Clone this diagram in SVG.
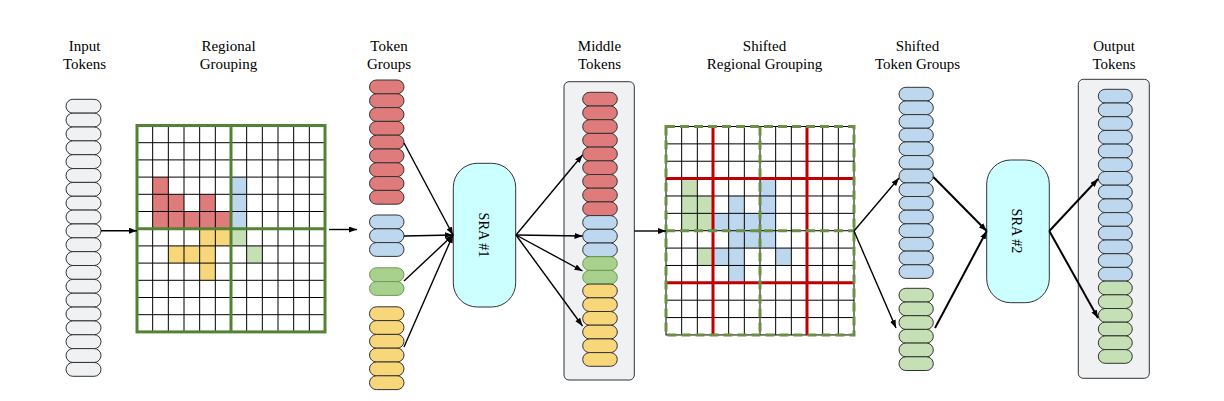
<svg xmlns="http://www.w3.org/2000/svg" width="1224" height="401" viewBox="0 0 1224 401">
<defs>
<marker id="ah" markerUnits="userSpaceOnUse" markerWidth="8" markerHeight="6" refX="8" refY="3" orient="auto"><path d="M0,0 L8,3 L0,6 z" fill="#000"/></marker>
<style>
.t{font-family:"Liberation Serif","Times New Roman",serif;font-size:15px;fill:#000;text-anchor:middle}
.s{font-family:"Liberation Serif","Times New Roman",serif;font-size:14.3px;fill:#000;text-anchor:middle}
.tk{stroke:#333;stroke-width:1}
.g{fill:#f0f1f3}.r{fill:#e07b7b}.b{fill:#bdd7ee}.gd{fill:#a9d18e;stroke:#6f9a55}.gl{fill:#c5e0b4}.y{fill:#f8d77b}
.cont{fill:#f0f1f3;stroke:#333;stroke-width:1}
.sra{fill:#ccffff;stroke:#333;stroke-width:1}
.gl1{stroke:#000;stroke-width:1;fill:none}
.gb{stroke:#548235;stroke-width:3;fill:none}
.gd2{stroke:#6a8f45;stroke-width:3;fill:none;stroke-dasharray:9 5}
.rl{stroke:#c00000;stroke-width:3;fill:none}
.c{stroke:#000;stroke-width:1.4;fill:none;marker-end:url(#ah)}
.c2{stroke:#000;stroke-width:2;fill:none;marker-end:url(#ah)}
</style>
</defs>
<rect width="1224" height="401" fill="#fff"/>

<g id="titles">
<text class="t" x="84.5" y="51">Input</text><text class="t" x="84.5" y="69">Tokens</text>
<text class="t" x="228.5" y="51">Regional</text><text class="t" x="228.5" y="69">Grouping</text>
<text class="t" x="389" y="51">Token</text><text class="t" x="389" y="69">Groups</text>
<text class="t" x="599.5" y="51">Middle</text><text class="t" x="599.5" y="69">Tokens</text>
<text class="t" x="764.5" y="51">Shifted</text><text class="t" x="764.5" y="69">Regional Grouping</text>
<text class="t" x="917.5" y="51">Shifted</text><text class="t" x="917.5" y="69">Token Groups</text>
<text class="t" x="1114" y="51">Output</text><text class="t" x="1114" y="69">Tokens</text>
</g>

<g id="input-tokens" class="tk">
<rect class="g" x="66" y="99.3" width="35" height="13.85" rx="6.9"/>
<rect class="g" x="66" y="113.15" width="35" height="13.85" rx="6.9"/>
<rect class="g" x="66" y="127" width="35" height="13.85" rx="6.9"/>
<rect class="g" x="66" y="140.85" width="35" height="13.85" rx="6.9"/>
<rect class="g" x="66" y="154.7" width="35" height="13.85" rx="6.9"/>
<rect class="g" x="66" y="168.55" width="35" height="13.85" rx="6.9"/>
<rect class="g" x="66" y="182.4" width="35" height="13.85" rx="6.9"/>
<rect class="g" x="66" y="196.25" width="35" height="13.85" rx="6.9"/>
<rect class="g" x="66" y="210.1" width="35" height="13.85" rx="6.9"/>
<rect class="g" x="66" y="223.95" width="35" height="13.85" rx="6.9"/>
<rect class="g" x="66" y="237.8" width="35" height="13.85" rx="6.9"/>
<rect class="g" x="66" y="251.65" width="35" height="13.85" rx="6.9"/>
<rect class="g" x="66" y="265.5" width="35" height="13.85" rx="6.9"/>
<rect class="g" x="66" y="279.35" width="35" height="13.85" rx="6.9"/>
<rect class="g" x="66" y="293.2" width="35" height="13.85" rx="6.9"/>
<rect class="g" x="66" y="307.05" width="35" height="13.85" rx="6.9"/>
<rect class="g" x="66" y="320.9" width="35" height="13.85" rx="6.9"/>
<rect class="g" x="66" y="334.75" width="35" height="13.85" rx="6.9"/>
<rect class="g" x="66" y="348.6" width="35" height="13.85" rx="6.9"/>
<rect class="g" x="66" y="362.45" width="35" height="13.85" rx="6.9"/>
</g>

<g id="regional-grouping">
<rect x="137" y="125.5" width="188" height="206.4" fill="#fff"/>
<g>
<rect class="r" x="152.67" y="177.1" width="15.67" height="17.2"/>
<rect class="r" x="152.67" y="194.3" width="15.67" height="17.2"/>
<rect class="r" x="168.33" y="194.3" width="15.67" height="17.2"/>
<rect class="r" x="199.67" y="194.3" width="15.67" height="17.2"/>
<rect class="r" x="152.67" y="211.5" width="15.67" height="17.2"/>
<rect class="r" x="168.33" y="211.5" width="15.67" height="17.2"/>
<rect class="r" x="184" y="211.5" width="15.67" height="17.2"/>
<rect class="r" x="199.67" y="211.5" width="15.67" height="17.2"/>
<rect class="r" x="215.33" y="211.5" width="15.67" height="17.2"/>
<rect class="b" x="231" y="177.1" width="15.67" height="17.2"/>
<rect class="b" x="231" y="194.3" width="15.67" height="17.2"/>
<rect class="b" x="231" y="211.5" width="15.67" height="17.2"/>
<rect class="y" x="199.67" y="228.7" width="15.67" height="17.2"/>
<rect class="y" x="215.33" y="228.7" width="15.67" height="17.2"/>
<rect class="y" x="168.33" y="245.9" width="15.67" height="17.2"/>
<rect class="y" x="184" y="245.9" width="15.67" height="17.2"/>
<rect class="y" x="199.67" y="245.9" width="15.67" height="17.2"/>
<rect class="y" x="199.67" y="263.1" width="15.67" height="17.2"/>
<rect class="gl" x="231" y="228.7" width="15.67" height="17.2"/>
<rect class="gl" x="246.67" y="245.9" width="15.67" height="17.2"/>
</g>
<path class="gl1" d="M152.67,125.5V331.9M168.33,125.5V331.9M184,125.5V331.9M199.67,125.5V331.9M215.33,125.5V331.9M231,125.5V331.9M246.67,125.5V331.9M262.33,125.5V331.9M278,125.5V331.9M293.67,125.5V331.9M309.33,125.5V331.9M137,142.7H325M137,159.9H325M137,177.1H325M137,194.3H325M137,211.5H325M137,228.7H325M137,245.9H325M137,263.1H325M137,280.3H325M137,297.5H325M137,314.7H325"/>
<rect class="gb" x="137" y="125.5" width="188" height="206.4"/>
<path class="gb" d="M231,125.5V331.9M137,228.7H325"/>
</g>

<g id="token-groups" class="tk">
<rect class="r" x="369.5" y="80" width="34.5" height="13.8" rx="6.9"/>
<rect class="r" x="369.5" y="93.8" width="34.5" height="13.8" rx="6.9"/>
<rect class="r" x="369.5" y="107.6" width="34.5" height="13.8" rx="6.9"/>
<rect class="r" x="369.5" y="121.4" width="34.5" height="13.8" rx="6.9"/>
<rect class="r" x="369.5" y="135.2" width="34.5" height="13.8" rx="6.9"/>
<rect class="r" x="369.5" y="149" width="34.5" height="13.8" rx="6.9"/>
<rect class="r" x="369.5" y="162.8" width="34.5" height="13.8" rx="6.9"/>
<rect class="r" x="369.5" y="176.6" width="34.5" height="13.8" rx="6.9"/>
<rect class="r" x="369.5" y="190.4" width="34.5" height="13.8" rx="6.9"/>
<rect class="b" x="369.5" y="215" width="34.5" height="13.8" rx="6.9"/>
<rect class="b" x="369.5" y="228.8" width="34.5" height="13.8" rx="6.9"/>
<rect class="b" x="369.5" y="242.6" width="34.5" height="13.8" rx="6.9"/>
<rect class="gd" x="369.5" y="267.8" width="34.5" height="13.8" rx="6.9"/>
<rect class="gd" x="369.5" y="281.6" width="34.5" height="13.8" rx="6.9"/>
<rect class="y" x="369.5" y="306.8" width="34.5" height="13.8" rx="6.9"/>
<rect class="y" x="369.5" y="320.6" width="34.5" height="13.8" rx="6.9"/>
<rect class="y" x="369.5" y="334.4" width="34.5" height="13.8" rx="6.9"/>
<rect class="y" x="369.5" y="348.2" width="34.5" height="13.8" rx="6.9"/>
<rect class="y" x="369.5" y="362" width="34.5" height="13.8" rx="6.9"/>
<rect class="y" x="369.5" y="375.8" width="34.5" height="13.8" rx="6.9"/>
</g>

<g id="sra1">
<rect class="sra" x="453.3" y="163.3" width="62.4" height="143.7" rx="24"/>
<text class="s" transform="translate(478.5,235) rotate(90)">SRA #1</text>
</g>

<g id="middle-tokens">
<rect class="cont" x="564" y="81.7" width="70.3" height="298.3" rx="5"/>
<g class="tk">
<rect class="r" x="582.7" y="92.3" width="34.6" height="13.7" rx="6.85"/>
<rect class="r" x="582.7" y="106" width="34.6" height="13.7" rx="6.85"/>
<rect class="r" x="582.7" y="119.7" width="34.6" height="13.7" rx="6.85"/>
<rect class="r" x="582.7" y="133.4" width="34.6" height="13.7" rx="6.85"/>
<rect class="r" x="582.7" y="147.1" width="34.6" height="13.7" rx="6.85"/>
<rect class="r" x="582.7" y="160.8" width="34.6" height="13.7" rx="6.85"/>
<rect class="r" x="582.7" y="174.5" width="34.6" height="13.7" rx="6.85"/>
<rect class="r" x="582.7" y="188.2" width="34.6" height="13.7" rx="6.85"/>
<rect class="r" x="582.7" y="201.9" width="34.6" height="13.7" rx="6.85"/>
<rect class="b" x="582.7" y="215.6" width="34.6" height="13.7" rx="6.85"/>
<rect class="b" x="582.7" y="229.3" width="34.6" height="13.7" rx="6.85"/>
<rect class="b" x="582.7" y="243" width="34.6" height="13.7" rx="6.85"/>
<rect class="gd" x="582.7" y="256.7" width="34.6" height="13.7" rx="6.85"/>
<rect class="gd" x="582.7" y="270.4" width="34.6" height="13.7" rx="6.85"/>
<rect class="y" x="582.7" y="284.1" width="34.6" height="13.7" rx="6.85"/>
<rect class="y" x="582.7" y="297.8" width="34.6" height="13.7" rx="6.85"/>
<rect class="y" x="582.7" y="311.5" width="34.6" height="13.7" rx="6.85"/>
<rect class="y" x="582.7" y="325.2" width="34.6" height="13.7" rx="6.85"/>
<rect class="y" x="582.7" y="338.9" width="34.6" height="13.7" rx="6.85"/>
<rect class="y" x="582.7" y="352.6" width="34.6" height="13.7" rx="6.85"/>
</g>
</g>

<g id="shifted-regional-grouping">
<rect x="666" y="126.5" width="188" height="208.44" fill="#fff"/>
<g>
<rect class="gl" x="681.67" y="178.61" width="15.67" height="17.37"/>
<rect class="gl" x="681.67" y="195.98" width="15.67" height="17.37"/>
<rect class="gl" x="681.67" y="213.35" width="15.67" height="17.37"/>
<rect class="gl" x="697.33" y="195.98" width="15.67" height="17.37"/>
<rect class="gl" x="697.33" y="213.35" width="15.67" height="17.37"/>
<rect class="gl" x="697.33" y="248.09" width="15.67" height="17.37"/>
<rect class="b" x="713" y="213.35" width="15.67" height="17.37"/>
<rect class="b" x="713" y="248.09" width="15.67" height="17.37"/>
<rect class="b" x="728.67" y="195.98" width="15.67" height="17.37"/>
<rect class="b" x="728.67" y="213.35" width="15.67" height="17.37"/>
<rect class="b" x="728.67" y="230.72" width="15.67" height="17.37"/>
<rect class="b" x="728.67" y="248.09" width="15.67" height="17.37"/>
<rect class="b" x="728.67" y="265.46" width="15.67" height="17.37"/>
<rect class="b" x="744.33" y="213.35" width="15.67" height="17.37"/>
<rect class="b" x="744.33" y="230.72" width="15.67" height="17.37"/>
<rect class="b" x="760" y="178.61" width="15.67" height="17.37"/>
<rect class="b" x="760" y="195.98" width="15.67" height="17.37"/>
<rect class="b" x="760" y="213.35" width="15.67" height="17.37"/>
<rect class="b" x="760" y="230.72" width="15.67" height="17.37"/>
<rect class="b" x="775.67" y="248.09" width="15.67" height="17.37"/>
</g>
<path class="gl1" d="M681.67,126.5V334.94M697.33,126.5V334.94M713,126.5V334.94M728.67,126.5V334.94M744.33,126.5V334.94M760,126.5V334.94M775.67,126.5V334.94M791.33,126.5V334.94M807,126.5V334.94M822.67,126.5V334.94M838.33,126.5V334.94M666,143.87H854M666,161.24H854M666,178.61H854M666,195.98H854M666,213.35H854M666,230.72H854M666,248.09H854M666,265.46H854M666,282.83H854M666,300.2H854M666,317.57H854"/>
<rect class="gl1" x="666" y="126.5" width="188" height="208.44"/>
<path class="rl" d="M713,126.5V334.94M807,126.5V334.94M666,178.61H854M666,282.83H854"/>
<rect class="gd2" x="666" y="126.5" width="188" height="208.44"/>
<path class="gd2" d="M760,126.5V334.94M666,230.72H854"/>
</g>

<g id="shifted-token-groups" class="tk">
<rect class="b" x="899" y="87.3" width="34.3" height="13.65" rx="6.8"/>
<rect class="b" x="899" y="100.95" width="34.3" height="13.65" rx="6.8"/>
<rect class="b" x="899" y="114.6" width="34.3" height="13.65" rx="6.8"/>
<rect class="b" x="899" y="128.25" width="34.3" height="13.65" rx="6.8"/>
<rect class="b" x="899" y="141.9" width="34.3" height="13.65" rx="6.8"/>
<rect class="b" x="899" y="155.55" width="34.3" height="13.65" rx="6.8"/>
<rect class="b" x="899" y="169.2" width="34.3" height="13.65" rx="6.8"/>
<rect class="b" x="899" y="182.85" width="34.3" height="13.65" rx="6.8"/>
<rect class="b" x="899" y="196.5" width="34.3" height="13.65" rx="6.8"/>
<rect class="b" x="899" y="210.15" width="34.3" height="13.65" rx="6.8"/>
<rect class="b" x="899" y="223.8" width="34.3" height="13.65" rx="6.8"/>
<rect class="b" x="899" y="237.45" width="34.3" height="13.65" rx="6.8"/>
<rect class="b" x="899" y="251.1" width="34.3" height="13.65" rx="6.8"/>
<rect class="b" x="899" y="264.75" width="34.3" height="13.65" rx="6.8"/>
<rect class="gl" x="899" y="288.3" width="34.3" height="13.7" rx="6.8"/>
<rect class="gl" x="899" y="302" width="34.3" height="13.7" rx="6.8"/>
<rect class="gl" x="899" y="315.7" width="34.3" height="13.7" rx="6.8"/>
<rect class="gl" x="899" y="329.4" width="34.3" height="13.7" rx="6.8"/>
<rect class="gl" x="899" y="343.1" width="34.3" height="13.7" rx="6.8"/>
<rect class="gl" x="899" y="356.8" width="34.3" height="13.7" rx="6.8"/>
</g>

<g id="sra2">
<rect class="sra" x="986.7" y="160" width="62.6" height="142.7" rx="24"/>
<text class="s" transform="translate(1012,231) rotate(90)">SRA #2</text>
</g>

<g id="output-tokens">
<rect class="cont" x="1078.3" y="79.3" width="71" height="299" rx="5"/>
<g class="tk">
<rect class="b" x="1098.3" y="89.3" width="34" height="13.7" rx="6.85"/>
<rect class="b" x="1098.3" y="103" width="34" height="13.7" rx="6.85"/>
<rect class="b" x="1098.3" y="116.7" width="34" height="13.7" rx="6.85"/>
<rect class="b" x="1098.3" y="130.4" width="34" height="13.7" rx="6.85"/>
<rect class="b" x="1098.3" y="144.1" width="34" height="13.7" rx="6.85"/>
<rect class="b" x="1098.3" y="157.8" width="34" height="13.7" rx="6.85"/>
<rect class="b" x="1098.3" y="171.5" width="34" height="13.7" rx="6.85"/>
<rect class="b" x="1098.3" y="185.2" width="34" height="13.7" rx="6.85"/>
<rect class="b" x="1098.3" y="198.9" width="34" height="13.7" rx="6.85"/>
<rect class="b" x="1098.3" y="212.6" width="34" height="13.7" rx="6.85"/>
<rect class="b" x="1098.3" y="226.3" width="34" height="13.7" rx="6.85"/>
<rect class="b" x="1098.3" y="240" width="34" height="13.7" rx="6.85"/>
<rect class="b" x="1098.3" y="253.7" width="34" height="13.7" rx="6.85"/>
<rect class="b" x="1098.3" y="267.4" width="34" height="13.7" rx="6.85"/>
<rect class="gl" x="1098.3" y="281.1" width="34" height="13.7" rx="6.85"/>
<rect class="gl" x="1098.3" y="294.8" width="34" height="13.7" rx="6.85"/>
<rect class="gl" x="1098.3" y="308.5" width="34" height="13.7" rx="6.85"/>
<rect class="gl" x="1098.3" y="322.2" width="34" height="13.7" rx="6.85"/>
<rect class="gl" x="1098.3" y="335.9" width="34" height="13.7" rx="6.85"/>
<rect class="gl" x="1098.3" y="349.6" width="34" height="13.7" rx="6.85"/>
</g>
</g>

<g id="connectors">
<line class="c" x1="101" y1="230.7" x2="137" y2="230.7"/>
<line class="c" x1="329" y1="229.5" x2="357" y2="229.5"/>
<line class="c" x1="404" y1="143" x2="453" y2="235"/>
<line class="c" x1="404" y1="236" x2="453" y2="235"/>
<line class="c" x1="404" y1="281" x2="453" y2="235"/>
<line class="c" x1="404" y1="347" x2="453" y2="235"/>
<line class="c" x1="516" y1="235" x2="582.5" y2="155"/>
<line class="c" x1="516" y1="235" x2="582.5" y2="236"/>
<line class="c" x1="516" y1="235" x2="582.5" y2="271"/>
<line class="c" x1="516" y1="235" x2="582.5" y2="326"/>
<line class="c" x1="634.3" y1="231" x2="666" y2="231"/>
<line class="c" x1="854" y1="231" x2="899" y2="178"/>
<line class="c" x1="854" y1="231" x2="896" y2="328"/>
<line class="c2" x1="933.3" y1="177" x2="986.7" y2="231"/>
<line class="c2" x1="935" y1="328" x2="986.7" y2="231"/>
<line class="c2" x1="1049.3" y1="231" x2="1098" y2="179"/>
<line class="c2" x1="1049.3" y1="231" x2="1098" y2="318"/>
</g>
</svg>
